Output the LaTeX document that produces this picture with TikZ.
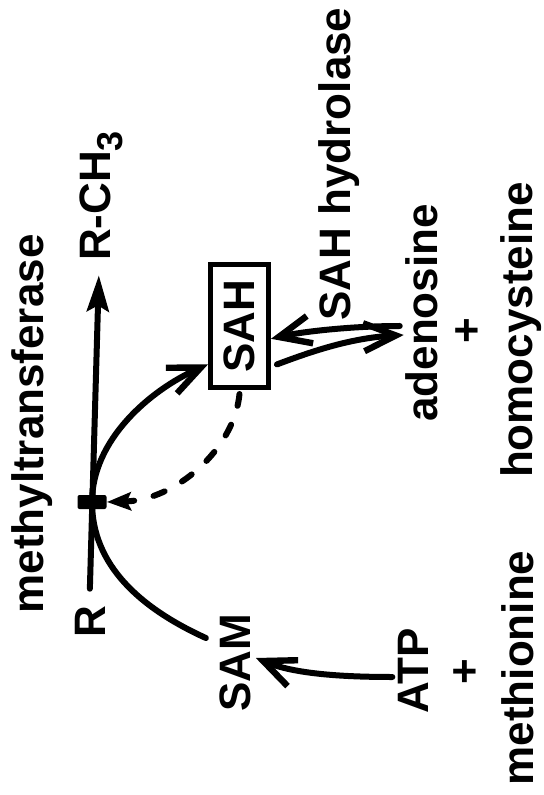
\documentclass[tikz,border=0pt]{standalone}
\usepackage{fontspec}
\setmainfont{Liberation Sans}
\usetikzlibrary{arrows.meta,calc}
\begin{document}
\begin{tikzpicture}[x=0.5pt,y=-0.5pt,
  lbl/.style={rotate=90,anchor=base,inner sep=0pt,
    font=\fontsize{22}{24}\selectfont\bfseries},
  pluslbl/.style={rotate=90,anchor=center,inner sep=0pt,
    font=\fontsize{22}{24}\selectfont\bfseries},
  conn/.style={line width=3pt,line cap=round},
  barb/.style={-{Straight Barb[length=16pt,width=14pt,line width=3.2pt]}},
  bigtip/.style={-{Stealth[length=18pt,width=11pt,inset=3pt]}},
  dashtip/.style={-{Stealth[length=12pt,width=9pt,inset=2pt]}},
  dashconn/.style={conn,dash pattern=on 6pt off 10pt},
  substance/.style={draw,line width=2.5pt,rotate=90,inner sep=0pt,
    minimum width=61.5pt,minimum height=29pt,
    font=\fontsize{22}{24}\selectfont\bfseries}]
\useasboundingbox (0,0) rectangle (544,795);

% labels (the whole scheme is set sideways)
\node[lbl] (mt)   at (43,424)  {methyltransferase};
\node[lbl] (rch3) at (110,196) {R-CH\raisebox{-6pt}{\fontsize{18}{18}\selectfont 3}};
\node[lbl] (r)    at (105,622) {R};
\node[lbl] (sam)  at (250,663) {SAM};
\node[lbl] (hyd)  at (350,164) {SAH hydrolase};
\node[lbl] (ado)  at (437,313) {adenosine};
\node[pluslbl] (p1) at (469,331) {+};
\node[lbl] (hcy)  at (532,330) {homocysteine};
\node[lbl] (atp)  at (428,671) {ATP};
\node[pluslbl] (p2) at (467,672) {+};
\node[lbl] (met)  at (533,668) {methionine};

% boxed SAH
\node[substance] (sah) at (239.5,326) {SAH};

% transfer site on the R line
\node[fill,minimum width=14.5pt,minimum height=7pt,inner sep=0pt,
  rounded corners=1pt] (site) at (92,502) {};

% R -> R-CH3
\coordinate (rfoot) at ($(r.east)+(0,-17)$);
\coordinate (rhead) at ($(rch3.west)+(-2,14)$);
\draw[conn,bigtip] (rfoot) -- (rhead);

% SAM -> site -> SAH
\coordinate (samout) at ($(sam.north)+(-13,-25)$);
\coordinate (sahin)  at ($(sah.north west)!0.2!(sah.north east)$);
\draw[conn,barb] (samout) .. controls (140,608) and (92,565) .. (site.center)
  .. controls (92,440) and (150,390) .. (sahin);

% SAH feedback on the methyltransferase
\draw[dashconn,dashtip] ($(sah.west)+(0,4)$) .. controls (234,450) and (175,500) .. (site.east);

% SAH <-> adenosine + homocysteine
\coordinate (sahr1) at ($(sah.south west)!0.4!(sah.south east)$);
\coordinate (sahr2) at ($(sah.south west)!0.2!(sah.south east)+(6,0)$);
\coordinate (ado1)  at ($(ado.north)+(-5,13)$);
\coordinate (ado2)  at ($(ado.north)+(-1,22)$);
\draw[conn,barb] (ado1) .. controls (350,326) and (300,332) .. (sahr1);
\draw[conn,barb] (sahr2) .. controls (310,352) and (350,338) .. (ado2);

% ATP + methionine -> SAM
\coordinate (atpout) at ($(atp.north)+(-5,6)$);
\coordinate (samin)  at ($(sam.south)+(5,-5)$);
\draw[conn,barb] (atpout) .. controls (330,677) and (290,672) .. (samin);
\end{tikzpicture}
\end{document}
